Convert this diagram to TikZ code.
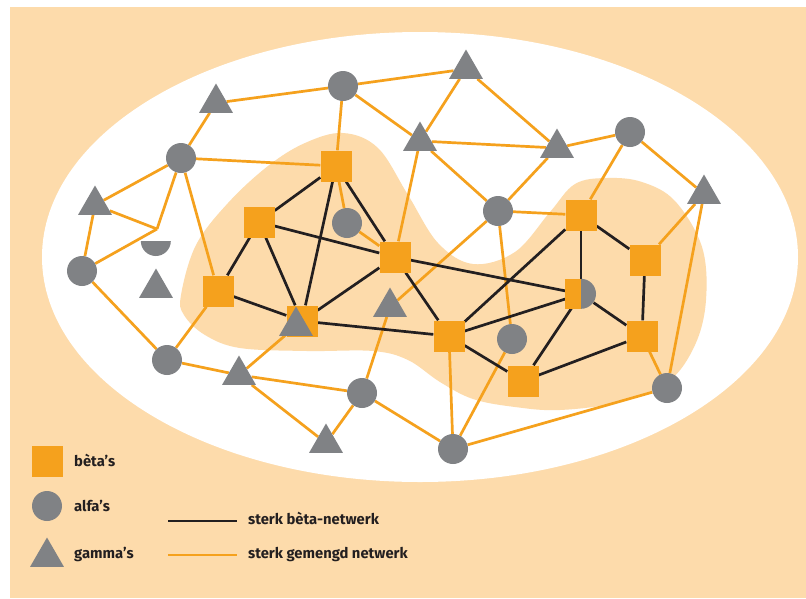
\documentclass[tikz,border=0pt]{standalone}
\usepackage{fontspec}
\setmainfont{Fira Sans}
\usetikzlibrary{shapes.geometric}
\definecolor{peach}{RGB}{253,219,171}
\definecolor{oranje}{RGB}{245,161,29}
\definecolor{grijs}{RGB}{128,130,133}
\definecolor{donker}{RGB}{35,31,32}
\pgfdeclarelayer{bg}
\pgfdeclarelayer{edges}
\pgfsetlayers{bg,edges,main}
\tikzset{
    beta/.style={rectangle, fill=oranje, minimum size=31pt, inner sep=0pt},
    alfa/.style={circle, fill=grijs, minimum size=30pt, inner sep=0pt},
    gamma/.style={regular polygon, regular polygon sides=3, fill=grijs, minimum size=39pt, inner sep=0pt},
    halfje/.style={circle, minimum size=30pt, inner sep=0pt},
    betaline/.style={donker, line width=2.7pt},
    mixline/.style={oranje, line width=2.7pt},
    legtext/.style={anchor=base west, inner sep=0pt, text=donker, font=\bfseries\fontsize{14.8}{17}\selectfont}
}

\begin{document}
\begin{tikzpicture}[x=1pt, y=-1pt]
    \useasboundingbox (0,0) rectangle (806,598);
    \begin{pgfonlayer}{bg}
        \fill[peach] (10,7) rectangle (806,598);
        \fill[white] (420,257) ellipse (378pt and 225pt);
        \fill[peach] plot[smooth cycle, tension=0.6] coordinates {
            (181,295) (196,245) (228,203) (268,166) (305,143) (343,133) (378,148)
            (408,195) (438,243) (473,264) (515,252) (550,212) (575,184) (607,178)
            (642,182) (675,201) (702,247) (706,300) (695,345) (668,382) (620,402)
            (560,410) (515,407) (473,399) (440,382) (408,360) (373,351) (307,351)
            (240,348) (205,335) (184,315)};
    \end{pgfonlayer}

    \node (b1) [beta] at (336,166) {};
    \node (b2) [beta] at (259,222) {};
    \node (b3) [beta] at (218,291) {};
    \node (b4) [beta] at (302,321) {};
    \node (b5) [beta] at (395,257) {};
    \node (b6) [beta] at (449,336) {};
    \node (b7) [beta] at (581,215) {};
    \node (b8) [beta] at (645,260) {};
    \node (b9) [beta] at (642,336) {};
    \node (b10) [beta] at (523,381) {};
    \node (b11) [halfje] at (581,294) {};
    \fill[oranje] ([shift={(-16pt,-15pt)}]b11.center) rectangle ([shift={(0pt,15pt)}]b11.center);
    \fill[grijs] (b11.north) arc (90:-90:15pt) -- cycle;

    \node (a1) [alfa] at (343,86) {};
    \node (a2) [alfa] at (181,158) {};
    \node (a3) [alfa] at (82,271) {};
    \node (a4) [alfa] at (167,360) {};
    \node (a5) [alfa] at (347,223) {};
    \node (a6) [alfa] at (498,211) {};
    \node (a7) [alfa] at (630,132) {};
    \node (a8) [alfa] at (512,339) {};
    \node (a9) [alfa] at (667,388) {};
    \node (a10) [alfa] at (362,393) {};
    \node (a11) [alfa] at (453,449) {};
    \node (hd) [halfje] at (156,241) {};
    \fill[grijs] (hd.west) arc (180:360:15pt) -- cycle;
    \coordinate (j) at (157,229);

    \node (g1) [gamma] at (216,103) {};
    \node (g2) [gamma] at (466,69) {};
    \node (g3) [gamma] at (420,141) {};
    \node (g4) [gamma] at (557,148) {};
    \node (g5) [gamma] at (95,205) {};
    \node (g6) [gamma] at (704,194) {};
    \node (g7) [gamma] at (156,288) {};
    \node (g8) [gamma] at (296,326) {};
    \node (g9) [gamma] at (390,307) {};
    \node (g10) [gamma] at (239,375) {};
    \node (g11) [gamma] at (326,443) {};

    \begin{pgfonlayer}{edges}
        \draw [mixline] (g1) -- (a1);
        \draw [mixline] (a1) -- (g2);
        \draw [mixline] (a1) -- (g3);
        \draw [mixline] (a1) -- (b1);
        \draw [mixline] (g2) -- (g3);
        \draw [mixline] (g2) -- (g4);
        \draw [mixline] (g1) -- (a2);
        \draw [mixline] (a2) -- (b1);
        \draw [mixline] (a2) -- (g5);
        \draw [mixline] (a2) -- (j);
        \draw [mixline] (a2) -- (b3);
        \draw [mixline] (g5) -- (j);
        \draw [mixline] (g5) -- (a3);
        \draw [mixline] (a3) -- (j);
        \draw [mixline] (a3) -- (a4);
        \draw [mixline] (g3) -- (g4);
        \draw [mixline] (g3) -- (b5);
        \draw [mixline] (g3) -- (a6);
        \draw [mixline] (g4) -- (a6);
        \draw [mixline] (g4) -- (a7);
        \draw [mixline] (a6) -- (b7);
        \draw [mixline] (a6) -- (a8);
        \draw [mixline] (a6) -- (g9);
        \draw [mixline] (a7) -- (b7);
        \draw [mixline] (a7) -- (g6);
        \draw [mixline] (g6) -- (b8);
        \draw [mixline] (g6) -- (a9);
        \draw [mixline] (a9) -- (b9);
        \draw [mixline] (a9) -- (a11);
        \draw [mixline] (a11) -- (a8);
        \draw [mixline] (a11) -- (b6);
        \draw [mixline] (a10) -- (a11);
        \draw [mixline] (a10) -- (g11);
        \draw [mixline] (a10) -- (g9);
        \draw [mixline] (g10) -- (a10);
        \draw [mixline] (g10) -- (g11);
        \draw [mixline] (a4) -- (g10);
        \draw [mixline] (a4) -- (b3);
        \draw [mixline] (g10) -- (b4);
        \draw [mixline] (b1) -- (a5);
        \draw [mixline] (a5) -- (b5);

        \draw [betaline] (b1) -- (b2);
        \draw [betaline] (b1) -- (b4);
        \draw [betaline] (b1) -- (b5);
        \draw [betaline] (b2) -- (b3);
        \draw [betaline] (b2) -- (b4);
        \draw [betaline] (b2) -- (b5);
        \draw [betaline] (b3) -- (b4);
        \draw [betaline] (b4) -- (b5);
        \draw [betaline] (b4) -- (b6);
        \draw [betaline] (b5) -- (b6);
        \draw [betaline] (b5) -- (b11);
        \draw [betaline] (b6) -- (b11);
        \draw [betaline] (b6) -- (b7);
        \draw [betaline] (b6) -- (b10);
        \draw [betaline] (b7) -- (b11);
        \draw [betaline] (b7) -- (b8);
        \draw [betaline] (b8) -- (b9);
        \draw [betaline] (b11) -- (b9);
        \draw [betaline] (b11) -- (b10);
        \draw [betaline] (b10) -- (b9);
    \end{pgfonlayer}

    \node (kb) [beta] at (47,461) {};
    \node (ka) [alfa] at (47,506) {};
    \node (kg) [gamma] at (47,557) {};
    \node (tb) [legtext] at (74,466) {bèta’s};
    \node (ta) [legtext] at (74,511) {alfa’s};
    \node (tg) [legtext] at (74,558) {gamma’s};
    \coordinate (l1a) at (168,521);
    \coordinate (l1b) at (237,521);
    \coordinate (l2a) at (168,555);
    \coordinate (l2b) at (237,555);
    \draw [betaline] (l1a) -- (l1b);
    \draw [mixline] (l2a) -- (l2b);
    \node (tl1) [legtext] at (248,524) {sterk bèta-netwerk};
    \node (tl2) [legtext] at (248,558) {sterk gemengd netwerk};
\end{tikzpicture}
\end{document}
